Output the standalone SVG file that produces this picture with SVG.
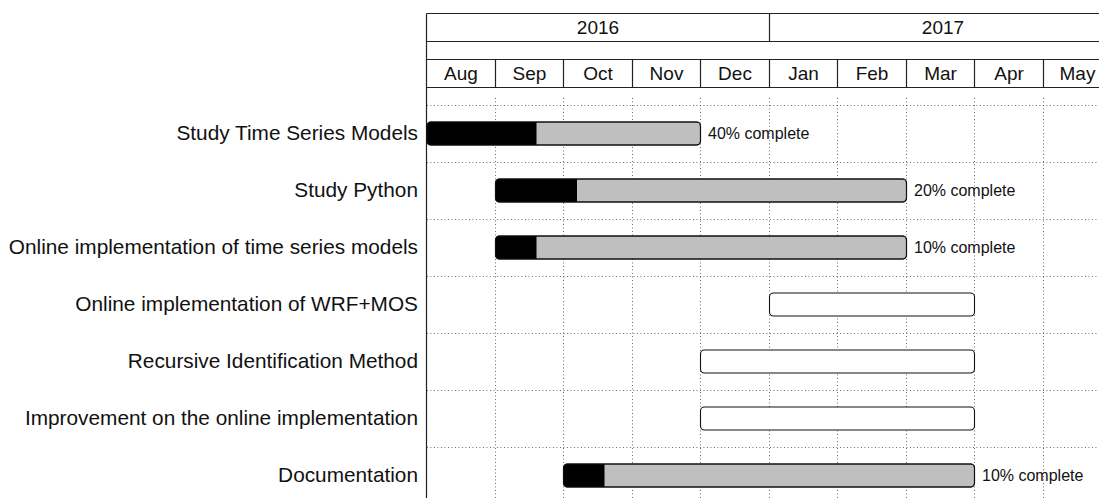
<svg xmlns="http://www.w3.org/2000/svg" width="1099" height="498" viewBox="0 0 1099 498">
<style>
.frame{stroke:#222;stroke-width:1.2;fill:none}
.grid{stroke:#333;stroke-width:0.8;stroke-dasharray:0.9 2.6;fill:none}
.lbl{font-family:"Liberation Sans",Arial,sans-serif;font-size:20.8px;fill:#111;text-anchor:end}
.hdr{font-family:"Liberation Sans",Arial,sans-serif;font-size:19px;fill:#111;text-anchor:middle}
.pct{font-family:"Liberation Sans",Arial,sans-serif;font-size:16px;fill:#111}
.bar{fill:#bfbfbf;stroke:#111;stroke-width:1.1}
.barw{fill:#fff;stroke:#111;stroke-width:1.1}
.done{fill:#000}
.out{fill:none;stroke:#111;stroke-width:1.1}
</style>
<rect width="1099" height="498" fill="#fff"/>
<g id="grid">
<g class="grid">
<line x1="427" y1="105.5" x2="1099" y2="105.5"/>
<line x1="427" y1="162.5" x2="1099" y2="162.5"/>
<line x1="427" y1="219.5" x2="1099" y2="219.5"/>
<line x1="427" y1="276.5" x2="1099" y2="276.5"/>
<line x1="427" y1="333.5" x2="1099" y2="333.5"/>
<line x1="427" y1="390.5" x2="1099" y2="390.5"/>
<line x1="427" y1="447.5" x2="1099" y2="447.5"/>
<line x1="495.5" y1="98" x2="495.5" y2="498"/>
<line x1="563.5" y1="98" x2="563.5" y2="498"/>
<line x1="632.5" y1="98" x2="632.5" y2="498"/>
<line x1="700.5" y1="98" x2="700.5" y2="498"/>
<line x1="769.5" y1="98" x2="769.5" y2="498"/>
<line x1="837.5" y1="98" x2="837.5" y2="498"/>
<line x1="906.5" y1="98" x2="906.5" y2="498"/>
<line x1="974.5" y1="98" x2="974.5" y2="498"/>
<line x1="1043.5" y1="98" x2="1043.5" y2="498"/>
</g>
</g>
<g id="header">
<g class="frame">
<line x1="426.5" y1="13.5" x2="1099" y2="13.5"/>
<line x1="426.5" y1="41.5" x2="1099" y2="41.5"/>
<line x1="426.5" y1="59.5" x2="1099" y2="59.5"/>
<line x1="426.5" y1="87.5" x2="1099" y2="87.5"/>
<line x1="426.5" y1="13.5" x2="426.5" y2="498"/>
<line x1="769.5" y1="13.5" x2="769.5" y2="41.5"/>
<line x1="495.5" y1="59.5" x2="495.5" y2="87.5"/>
<line x1="563.5" y1="59.5" x2="563.5" y2="87.5"/>
<line x1="632.5" y1="59.5" x2="632.5" y2="87.5"/>
<line x1="700.5" y1="59.5" x2="700.5" y2="87.5"/>
<line x1="769.5" y1="59.5" x2="769.5" y2="87.5"/>
<line x1="837.5" y1="59.5" x2="837.5" y2="87.5"/>
<line x1="906.5" y1="59.5" x2="906.5" y2="87.5"/>
<line x1="974.5" y1="59.5" x2="974.5" y2="87.5"/>
<line x1="1043.5" y1="59.5" x2="1043.5" y2="87.5"/>
</g>
<text class="hdr" x="598" y="34">2016</text>
<text class="hdr" x="943" y="34">2017</text>
<text class="hdr" x="461" y="80">Aug</text>
<text class="hdr" x="529.5" y="80">Sep</text>
<text class="hdr" x="598" y="80">Oct</text>
<text class="hdr" x="666.5" y="80">Nov</text>
<text class="hdr" x="735" y="80">Dec</text>
<text class="hdr" x="803.5" y="80">Jan</text>
<text class="hdr" x="872" y="80">Feb</text>
<text class="hdr" x="940.5" y="80">Mar</text>
<text class="hdr" x="1009" y="80">Apr</text>
<text class="hdr" x="1077.5" y="80">May</text>
</g>
<g id="task1">
<text class="lbl" x="418" y="139.5">Study Time Series Models</text>
<rect class="bar" x="427" y="122" width="273.5" height="23" rx="4"/>
<path class="done" d="M431,122 H536.5 V145 H431 A4,4 0 0 1 427,141 V126 A4,4 0 0 1 431,122 Z"/>
<rect class="out" x="427" y="122" width="273.5" height="23" rx="4"/>
<text class="pct" x="708" y="139">40% complete</text>
</g>
<g id="task2">
<text class="lbl" x="418" y="196.5">Study Python</text>
<rect class="bar" x="495.5" y="179" width="411" height="23" rx="4"/>
<path class="done" d="M499.5,179 H577 V202 H499.5 A4,4 0 0 1 495.5,198 V183 A4,4 0 0 1 499.5,179 Z"/>
<rect class="out" x="495.5" y="179" width="411" height="23" rx="4"/>
<text class="pct" x="914" y="196">20% complete</text>
</g>
<g id="task3">
<text class="lbl" x="418" y="253.5">Online implementation of time series models</text>
<rect class="bar" x="495.5" y="236" width="411" height="23" rx="4"/>
<path class="done" d="M499.5,236 H536.5 V259 H499.5 A4,4 0 0 1 495.5,255 V240 A4,4 0 0 1 499.5,236 Z"/>
<rect class="out" x="495.5" y="236" width="411" height="23" rx="4"/>
<text class="pct" x="914" y="253">10% complete</text>
</g>
<g id="task4">
<text class="lbl" x="418" y="310.5">Online implementation of WRF+MOS</text>
<rect class="barw" x="769.5" y="293" width="205" height="23" rx="4"/>
</g>
<g id="task5">
<text class="lbl" x="418" y="367.5">Recursive Identification Method</text>
<rect class="barw" x="700.5" y="350" width="274" height="23" rx="4"/>
</g>
<g id="task6">
<text class="lbl" x="418" y="424.5">Improvement on the online implementation</text>
<rect class="barw" x="700.5" y="407" width="274" height="23" rx="4"/>
</g>
<g id="task7">
<text class="lbl" x="418" y="481.5">Documentation</text>
<rect class="bar" x="563.5" y="464" width="411" height="23" rx="4"/>
<path class="done" d="M567.5,464 H604.5 V487 H567.5 A4,4 0 0 1 563.5,483 V468 A4,4 0 0 1 567.5,464 Z"/>
<rect class="out" x="563.5" y="464" width="411" height="23" rx="4"/>
<text class="pct" x="982" y="481">10% complete</text>
</g>
</svg>
